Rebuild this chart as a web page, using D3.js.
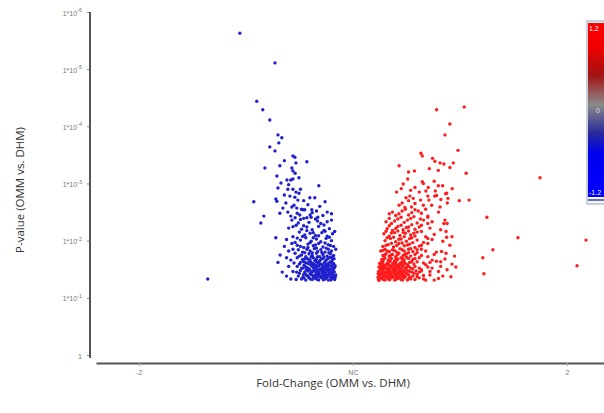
<!DOCTYPE html>
<html>
<head>
<meta charset="utf-8">
<script src="https://cdn.jsdelivr.net/npm/d3@7"></script>
<style>
	body { margin:0; background:#fff; }
	svg { display:block; }
</style>
</head>
<body>
<svg id="chart" width="604" height="413"></svg>
<script>

// chart values: [log2 fold-change, -log10 p-value]
// -----------------------------------------------
var bluePoints = [
	[-0.085,1.32],[-0.10,1.34],[-0.115,1.31],[-0.13,1.33],[-0.145,1.35],[-0.16,1.31],[-0.175,1.34],[-0.19,1.32],[-0.205,1.35],[-0.22,1.31],[-0.24,1.33],[-0.265,1.32],
	[-0.08,1.40],[-0.095,1.38],[-0.11,1.41],[-0.125,1.38],[-0.14,1.42],[-0.155,1.39],[-0.17,1.41],[-0.185,1.38],[-0.20,1.42],[-0.215,1.39],[-0.23,1.41],[-0.255,1.38],
	[-0.09,1.47],[-0.105,1.44],[-0.12,1.48],[-0.135,1.45],[-0.15,1.49],[-0.165,1.45],[-0.18,1.48],[-0.195,1.44],[-0.21,1.47],[-0.225,1.45],[-0.245,1.48],[-0.28,1.46],
	[-0.085,1.53],[-0.10,1.55],[-0.115,1.51],[-0.13,1.54],[-0.145,1.52],[-0.16,1.56],[-0.175,1.52],[-0.19,1.55],[-0.205,1.51],[-0.22,1.54],[-0.24,1.52],[-0.26,1.55],
	[-0.09,1.60],[-0.105,1.63],[-0.12,1.58],[-0.135,1.61],[-0.15,1.59],[-0.165,1.62],[-0.18,1.58],[-0.195,1.62],[-0.21,1.60],[-0.23,1.63],[-0.25,1.59],[-0.275,1.61],
	[-0.095,1.67],[-0.11,1.70],[-0.125,1.66],[-0.14,1.69],[-0.155,1.65],[-0.17,1.68],[-0.185,1.70],[-0.20,1.66],[-0.215,1.69],[-0.235,1.67],[-0.26,1.70],[-0.29,1.66],
	[-0.09,1.74],[-0.105,1.77],[-0.12,1.73],[-0.14,1.76],[-0.155,1.72],[-0.17,1.78],[-0.19,1.74],[-0.205,1.77],[-0.22,1.72],[-0.24,1.75],[-0.27,1.78],
	[-0.10,1.82],[-0.115,1.85],[-0.13,1.80],[-0.15,1.84],[-0.165,1.81],[-0.18,1.86],[-0.20,1.82],[-0.215,1.85],[-0.235,1.80],[-0.255,1.84],[-0.30,1.82],
	[-0.0925,1.355],[-0.1075,1.365],[-0.1225,1.355],[-0.1375,1.37],[-0.1525,1.36],[-0.1675,1.365],[-0.1825,1.36],
	[-0.0975,1.43],[-0.1125,1.445],[-0.1275,1.43],[-0.1425,1.44],[-0.1575,1.43],[-0.1725,1.445],
	[-0.0925,1.505],[-0.1075,1.50],[-0.1225,1.515],[-0.1375,1.50],[-0.1525,1.51],[-0.1675,1.50],[-0.1825,1.515],
	[-0.0975,1.575],[-0.1125,1.57],[-0.1275,1.58],[-0.1425,1.565],[-0.1575,1.575],[-0.1725,1.57],
	[-0.083,1.36],[-0.118,1.395],[-0.148,1.375],[-0.178,1.39],[-0.208,1.37],[-0.233,1.365],[-0.25,1.43],[-0.263,1.45],
	[-0.087,1.45],[-0.113,1.475],[-0.143,1.465],[-0.188,1.46],[-0.218,1.49],[-0.233,1.52],[-0.083,1.56],[-0.118,1.545],
	[-0.168,1.54],[-0.198,1.58],[-0.228,1.57],[-0.245,1.62],[-0.098,1.62],[-0.128,1.64],[-0.173,1.635],[-0.203,1.64],
	[-0.225,1.68],[-0.10,1.71],[-0.135,1.715],[-0.165,1.72],[-0.195,1.715],[-0.25,1.73],[-0.112,1.79],[-0.145,1.795],
	[-0.19,1.79],[-0.225,1.79],[-0.28,1.85],[-0.08,1.85],[-0.125,1.87],[-0.17,1.87],[-0.21,1.88],
	[-0.088,1.335],[-0.103,1.31],[-0.138,1.315],[-0.168,1.325],[-0.198,1.33],[-0.228,1.345],[-0.093,1.395],[-0.133,1.40],
	[-0.163,1.40],[-0.193,1.405],[-0.223,1.42],[-0.10,1.485],[-0.128,1.49],[-0.158,1.475],[-0.20,1.485],[-0.093,1.54],
	[-0.138,1.535],[-0.183,1.535],[-0.213,1.525],[-0.113,1.605],[-0.158,1.605],[-0.188,1.60],[-0.22,1.615],[-0.088,1.685],
	[-0.118,1.685],[-0.148,1.675],[-0.178,1.655],[-0.208,1.675],
	[-0.09,1.90],[-0.115,1.93],[-0.14,1.89],[-0.16,1.95],[-0.185,1.91],[-0.21,1.94],[-0.23,1.88],[-0.26,1.92],[-0.285,1.95],
	[-0.10,2.00],[-0.125,2.04],[-0.15,1.98],[-0.17,2.03],[-0.195,1.99],[-0.22,2.05],[-0.245,2.01],[-0.27,1.97],[-0.31,2.02],
	[-0.095,2.12],[-0.12,2.08],[-0.145,2.14],[-0.175,2.09],[-0.20,2.13],[-0.225,2.10],[-0.25,2.15],[-0.28,2.07],
	[-0.11,2.21],[-0.135,2.18],[-0.16,2.25],[-0.19,2.19],[-0.215,2.24],[-0.24,2.20],[-0.265,2.27],[-0.30,2.22],
	[-0.12,2.33],[-0.15,2.30],[-0.175,2.38],[-0.205,2.32],[-0.23,2.39],[-0.255,2.31],[-0.285,2.36],
	[-0.10,2.47],[-0.14,2.44],[-0.17,2.52],[-0.20,2.45],[-0.225,2.54],[-0.26,2.48],[-0.29,2.43],
	[-0.105,1.915],[-0.13,1.96],[-0.175,1.925],[-0.20,1.965],[-0.245,1.90],[-0.11,2.06],[-0.16,2.085],[-0.185,2.05],
	[-0.235,2.075],[-0.26,2.045],[-0.085,2.16],[-0.13,2.165],[-0.185,2.14],[-0.215,2.175],[-0.23,2.26],[-0.28,2.245],
	[-0.135,2.275],[-0.10,2.36],[-0.165,2.345],[-0.195,2.41],[-0.245,2.37],[-0.27,2.40],[-0.12,2.50],[-0.19,2.49],
	[-0.24,2.55],[-0.155,2.60],[-0.21,2.63],[-0.275,2.62],[-0.13,2.68],[-0.23,2.70],[-0.32,2.80],[-0.245,2.90],
	[-0.30,2.98],[-0.27,3.18],[-0.32,3.40],
	[-0.33,1.45],[-0.35,1.62],[-0.31,1.38],[-0.34,1.75],[-0.32,1.90],[-0.36,2.05],[-0.30,1.55],[-0.29,1.33],[-0.31,1.70],
	[-0.364,3.57],[-0.280,3.48],[-0.271,3.46],[-0.341,3.31],[-0.285,3.27],[-0.280,3.22],[-0.411,3.27],[-0.215,3.38],
	[-0.266,3.36],[-0.355,3.13],[-0.252,3.10],[-0.308,3.06],[-0.290,3.06],[-0.280,3.08],[-0.336,3.01],[-0.159,2.96],
	[-0.350,2.92],[-0.304,2.90],[-0.280,2.90],[-0.266,2.85],[-0.252,2.83],[-0.360,2.73],[-0.355,2.69],[-0.294,2.78],
	[-0.271,2.76],[-0.257,2.71],[-0.201,2.75],[-0.178,2.75],[-0.463,2.68],[-0.313,2.66],[-0.327,2.57],[-0.285,2.59],
	[-0.262,2.57],[-0.234,2.54],[-0.192,2.54],[-0.304,2.50],[-0.341,2.48],[-0.248,2.45],[-0.215,2.40],[-0.164,2.41],
	[-0.416,2.43],[-0.430,2.31],
	[-0.528,5.63],[-0.364,5.11],[-0.449,4.44],[-0.421,4.29],[-0.388,4.11],[-0.350,3.85],[-0.332,3.80],[-0.346,3.71],
	[-0.388,3.64],[-0.678,1.33]
];

var redPoints = [
	[0.12,1.32],[0.135,1.34],[0.15,1.31],[0.165,1.33],[0.18,1.35],[0.195,1.31],[0.21,1.34],[0.225,1.32],[0.24,1.35],[0.255,1.31],[0.27,1.33],[0.29,1.32],[0.31,1.35],[0.34,1.31],
	[0.125,1.39],[0.14,1.41],[0.155,1.37],[0.17,1.42],[0.185,1.38],[0.20,1.41],[0.215,1.39],[0.23,1.42],[0.245,1.37],[0.26,1.40],[0.28,1.38],[0.30,1.41],[0.33,1.39],
	[0.12,1.46],[0.135,1.48],[0.15,1.44],[0.165,1.49],[0.18,1.45],[0.195,1.47],[0.21,1.44],[0.225,1.49],[0.24,1.46],[0.255,1.48],[0.275,1.45],[0.295,1.47],[0.32,1.49],[0.36,1.46],
	[0.13,1.53],[0.145,1.56],[0.16,1.51],[0.175,1.54],[0.19,1.52],[0.205,1.55],[0.22,1.51],[0.235,1.56],[0.25,1.53],[0.27,1.52],[0.29,1.55],[0.31,1.52],[0.35,1.54],
	[0.125,1.60],[0.14,1.62],[0.155,1.58],[0.17,1.63],[0.185,1.59],[0.20,1.61],[0.215,1.58],[0.23,1.63],[0.245,1.60],[0.265,1.62],[0.285,1.59],[0.30,1.63],[0.33,1.61],
	[0.135,1.67],[0.15,1.70],[0.165,1.66],[0.18,1.69],[0.195,1.65],[0.21,1.68],[0.225,1.70],[0.24,1.66],[0.26,1.69],[0.28,1.67],[0.31,1.70],[0.37,1.66],
	[0.14,1.74],[0.155,1.77],[0.17,1.73],[0.185,1.76],[0.20,1.72],[0.215,1.78],[0.235,1.74],[0.25,1.77],[0.27,1.73],[0.29,1.76],[0.32,1.74],
	[0.13,1.82],[0.15,1.85],[0.17,1.81],[0.185,1.84],[0.205,1.80],[0.22,1.86],[0.24,1.82],[0.26,1.85],[0.28,1.81],[0.30,1.84],[0.34,1.82],[0.39,1.80],
	[0.1275,1.355],[0.1425,1.36],[0.1575,1.355],[0.1725,1.37],[0.1875,1.36],[0.2025,1.365],[0.2175,1.355],[0.2325,1.37],
	[0.1325,1.43],[0.1475,1.445],[0.1625,1.43],[0.1775,1.44],[0.1925,1.43],[0.2075,1.445],[0.2225,1.435],
	[0.1275,1.505],[0.1425,1.50],[0.1575,1.515],[0.1725,1.50],[0.1875,1.51],[0.2025,1.50],[0.2175,1.515],
	[0.1375,1.575],[0.1525,1.57],[0.1675,1.58],[0.1825,1.565],[0.1975,1.575],[0.2125,1.57],[0.2275,1.58],
	[0.118,1.36],[0.148,1.39],[0.178,1.395],[0.208,1.375],[0.238,1.395],[0.268,1.36],[0.30,1.37],[0.118,1.42],
	[0.158,1.465],[0.188,1.485],[0.218,1.47],[0.248,1.43],[0.285,1.43],[0.31,1.45],[0.122,1.54],[0.152,1.535],
	[0.182,1.545],[0.212,1.54],[0.242,1.51],[0.262,1.55],[0.28,1.51],[0.132,1.62],[0.162,1.61],[0.192,1.62],
	[0.222,1.61],[0.255,1.58],[0.275,1.63],[0.145,1.68],[0.172,1.705],[0.202,1.695],[0.232,1.685],[0.25,1.71],
	[0.29,1.69],[0.148,1.755],[0.178,1.75],[0.208,1.755],[0.243,1.76],[0.26,1.79],[0.30,1.79],[0.14,1.83],
	[0.16,1.82],[0.195,1.825],[0.23,1.84],[0.27,1.86],[0.32,1.85],
	[0.122,1.305],[0.142,1.32],[0.172,1.315],[0.202,1.325],[0.232,1.31],[0.262,1.34],[0.128,1.40],[0.163,1.395],
	[0.193,1.405],[0.225,1.40],[0.255,1.42],[0.14,1.465],[0.17,1.47],[0.20,1.485],[0.23,1.455],[0.265,1.465],
	[0.138,1.525],[0.168,1.525],[0.198,1.535],[0.228,1.53],[0.13,1.585],[0.16,1.595],[0.19,1.60],[0.22,1.59],
	[0.238,1.62],[0.14,1.65],[0.175,1.645],[0.205,1.655],
	[0.14,1.90],[0.165,1.93],[0.19,1.89],[0.215,1.95],[0.24,1.91],[0.265,1.94],[0.29,1.88],[0.32,1.92],[0.35,1.95],
	[0.15,2.00],[0.175,2.04],[0.20,1.98],[0.225,2.03],[0.25,1.99],[0.275,2.05],[0.30,2.01],[0.33,1.97],[0.37,2.02],[0.42,1.99],
	[0.145,2.12],[0.17,2.08],[0.195,2.14],[0.22,2.09],[0.245,2.13],[0.27,2.10],[0.30,2.15],[0.34,2.07],[0.38,2.11],
	[0.16,2.21],[0.185,2.18],[0.21,2.25],[0.235,2.19],[0.26,2.24],[0.29,2.20],[0.32,2.27],[0.36,2.22],[0.41,2.19],
	[0.155,2.33],[0.18,2.30],[0.21,2.38],[0.24,2.32],[0.27,2.39],[0.30,2.31],[0.33,2.36],[0.37,2.33],[0.44,2.30],
	[0.17,2.47],[0.20,2.44],[0.23,2.52],[0.26,2.45],[0.29,2.54],[0.32,2.48],[0.35,2.43],[0.40,2.50],
	[0.155,1.92],[0.18,1.955],[0.205,1.915],[0.23,1.96],[0.255,1.925],[0.28,1.965],[0.31,1.905],[0.16,2.05],
	[0.19,2.06],[0.215,2.025],[0.24,2.07],[0.265,2.035],[0.29,2.08],[0.35,2.04],[0.155,2.165],[0.18,2.135],
	[0.21,2.17],[0.235,2.145],[0.26,2.17],[0.285,2.13],[0.32,2.16],[0.17,2.26],[0.20,2.215],[0.225,2.27],
	[0.25,2.23],[0.275,2.28],[0.31,2.24],[0.35,2.30],[0.17,2.39],[0.195,2.345],[0.225,2.41],[0.255,2.36],
	[0.285,2.42],[0.315,2.38],[0.35,2.41],[0.185,2.50],[0.215,2.47],[0.245,2.55],[0.275,2.49],[0.305,2.52],
	[0.34,2.55],[0.23,2.66],[0.26,2.70],[0.29,2.65],[0.35,2.78],[0.31,2.85],[0.27,2.88],
	[0.33,1.33],[0.36,1.40],[0.38,1.31],[0.40,1.46],[0.37,1.52],[0.42,1.38],[0.34,1.58],[0.39,1.64],
	[0.35,1.72],[0.41,1.55],[0.44,1.49],[0.32,1.47],[0.36,1.62],[0.38,1.76],[0.43,1.68],[0.40,1.34],
	[0.391,4.29],[0.520,4.34],[0.453,4.04],[0.430,3.85],[0.491,3.58],[0.318,3.53],[0.324,3.48],[0.216,3.31],
	[0.372,3.44],[0.383,3.39],[0.407,3.36],[0.425,3.34],[0.469,3.36],[0.453,3.28],[0.357,3.26],[0.260,3.20],
	[0.288,3.22],[0.399,3.23],[0.529,3.18],[0.256,3.08],[0.235,2.99],[0.324,3.03],[0.329,3.00],[0.380,3.04],
	[0.419,2.96],[0.464,2.91],[0.352,2.93],[0.399,2.96],[0.290,2.93],[0.226,2.91],[0.204,2.85],[0.341,2.87],
	[0.385,2.87],[0.433,2.82],[0.391,2.79],[0.266,2.78],[0.248,2.75],[0.282,2.74],[0.316,2.71],[0.355,2.71],
	[0.382,2.78],[0.411,2.72],[0.497,2.70],[0.543,2.71],[0.216,2.62],[0.243,2.58],[0.274,2.59],[0.329,2.62],
	[0.368,2.62],[0.441,2.66],[0.407,2.59],[0.438,2.83],[0.444,2.74],
	[0.430,2.36],[0.435,2.16],[0.463,2.07],[0.453,1.92],[0.414,1.81],[0.475,1.73],[0.463,1.59],[0.481,1.54],
	[0.458,1.37],[0.425,2.30],[0.438,2.06],[0.435,1.78],[0.410,1.63],
	[0.874,3.10],[0.626,2.41],[0.771,2.05],[1.089,2.01],[0.654,1.84],[0.607,1.70],[1.047,1.56],[0.612,1.42]
];

// axis ticks
// -----------------------------------------------
var xTickValues = [-1, 0, 1];
var xTickLabels = ["-2", "NC", "2"];
var yTickExponents = [0, 1, 2, 3, 4, 5, 6];

// color bar
// -----------------------------------------------
var colorBarLabels = ["1.2", "0", "-1.2"];
var colorBarColors = ["#ff0000", "#ee0000", "#a31212", "#8a8a8a", "#2a2a9a", "#0000f0", "#0000ff"];
var colorBarOffsets = [0, 0.14, 0.3, 0.47, 0.63, 0.75, 1];

// draw
// -----------------------------------------------
var svg = d3.select("#chart");

var xScale = d3.scaleLinear().domain([-1.2, 1.173]).range([96, 604]);
var yScale = d3.scaleLinear().domain([0, 6]).range([355, 12]);

// y axis (p-value, log)
// -----------------------------------------------
var yAxis = d3.axisLeft(yScale)
	.tickValues(yTickExponents)
	.tickSize(3)
	.tickSizeOuter(0)
	.tickFormat("");

var gY = svg.append("g")
	.attr("transform", "translate(90,0)")
	.call(yAxis);
gY.select(".domain").remove();
gY.selectAll(".tick line").attr("stroke", "#888");

gY.append("line")
	.attr("x1", 0).attr("x2", 0)
	.attr("y1", yScale(6)).attr("y2", yScale(0) + 3)
	.attr("stroke", "#555").attr("stroke-width", 2);

gY.selectAll(".tick").each(function(d){
	var t = d3.select(this).append("text")
		.attr("x", -8)
		.attr("y", 3)
		.attr("style", "font-family:'Liberation Sans',Arial,sans-serif;font-size:7px;fill:#777;text-anchor:end");
	if ( d === 0 ){
		t.text("1");
	} else {
		t.append("tspan").text("1*10");
		t.append("tspan")
			.attr("dy", -3.5)
			.attr("style", "font-size:5.5px")
			.text("-" + d);
	}
});

// x axis (fold-change)
// -----------------------------------------------
var xAxis = d3.axisBottom(xScale)
	.tickValues(xTickValues)
	.tickSize(3)
	.tickSizeOuter(0)
	.tickFormat(function(d, i){ return xTickLabels[i]; });

var gX = svg.append("g")
	.attr("transform", "translate(0,363)")
	.call(xAxis);
gX.select(".domain").attr("stroke", "#555").attr("stroke-width", 2);
gX.selectAll(".tick line").attr("stroke", "#aaa");
gX.selectAll(".tick text")
	.attr("y", 7)
	.attr("style", "font-family:'Liberation Sans',Arial,sans-serif;font-size:7px;fill:#777");

// axis titles
// -----------------------------------------------
svg.append("text")
	.attr("transform", "translate(24,190) rotate(-90)")
	.attr("style", "font-family:'Open Sans','Liberation Sans',sans-serif;font-size:11.5px;fill:#333;text-anchor:middle")
	.text("P-value (OMM vs. DHM)");

svg.append("text")
	.attr("x", 333)
	.attr("y", 387)
	.attr("style", "font-family:'Open Sans','Liberation Sans',sans-serif;font-size:11.5px;fill:#333;text-anchor:middle")
	.text("Fold-Change (OMM vs. DHM)");

// points
// -----------------------------------------------
svg.append("g").selectAll("circle")
	.data(bluePoints)
	.join("circle")
	.attr("cx", function(d){ return xScale(d[0]); })
	.attr("cy", function(d){ return yScale(d[1]); })
	.attr("r", 1.7)
	.attr("style", "fill:#2020cc;stroke:none");

svg.append("g").selectAll("circle")
	.data(redPoints)
	.join("circle")
	.attr("cx", function(d){ return xScale(d[0]); })
	.attr("cy", function(d){ return yScale(d[1]); })
	.attr("r", 1.7)
	.attr("style", "fill:#ff1c1c;stroke:none");

// color bar legend
// -----------------------------------------------
var defs = svg.append("defs");
var grad = defs.append("linearGradient")
	.attr("id", "cbar")
	.attr("x1", 0).attr("y1", 0).attr("x2", 0).attr("y2", 1);
grad.selectAll("stop")
	.data(colorBarColors)
	.join("stop")
	.attr("offset", function(d, i){ return colorBarOffsets[i]; })
	.attr("stop-color", function(d){ return d; });

var barScale = d3.scaleLinear().domain([1.2, -1.2]).range([28, 192]);

svg.append("rect")
	.attr("x", 587).attr("y", 21)
	.attr("width", 20).attr("height", 183)
	.attr("style", "fill:#f4f6fa;stroke:#9aa6bb;stroke-width:1");
svg.append("rect")
	.attr("x", 588).attr("y", 23)
	.attr("width", 18).attr("height", 174)
	.attr("style", "fill:url(#cbar);stroke:none");
svg.append("line")
	.attr("x1", 588).attr("x2", 606)
	.attr("y1", 200).attr("y2", 200)
	.attr("style", "stroke:#3344bb;stroke-width:1.5");

svg.selectAll(".cblabel")
	.data(colorBarLabels)
	.join("text")
	.attr("class", "cblabel")
	.attr("x", function(d){ return d === "0" ? 596 : 589; })
	.attr("y", function(d){ return barScale(+d) + 2.5; })
	.attr("style", function(d){ return "font-family:'Liberation Sans',Arial,sans-serif;font-size:7px;fill:" + (d === "0" ? "#ddd" : "#fff"); })
	.text(function(d){ return d; });

</script>
</body>
</html>
